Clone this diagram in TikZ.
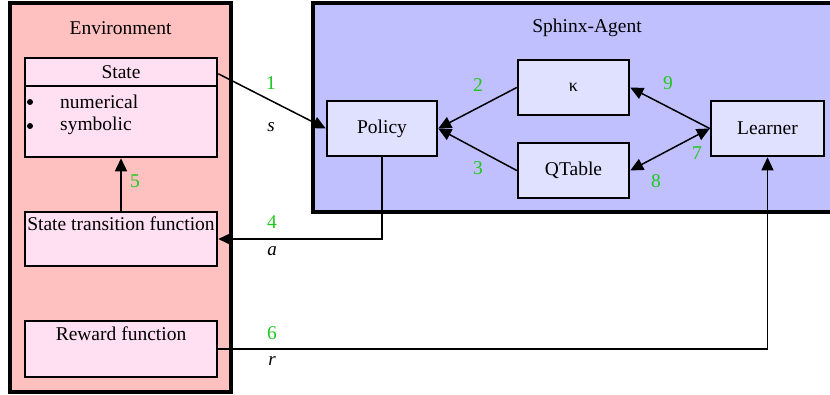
\documentclass[tikz,border=0pt]{standalone}
\usepackage{fontspec}
\setmainfont{Liberation Serif}
\usetikzlibrary{arrows.meta}
\definecolor{envfill}{RGB}{255,192,192}
\definecolor{nodepink}{RGB}{255,224,242}
\definecolor{agentfill}{RGB}{192,192,255}
\definecolor{nodeblue}{RGB}{224,224,255}
\definecolor{lblgreen}{RGB}{30,200,30}
\tikzset{
  cluster/.style={draw, line width=4pt},
  envbox/.style={draw, line width=2.5pt, fill=nodepink, inner sep=0pt, minimum width=192pt},
  agbox/.style={draw, line width=2.5pt, fill=nodeblue, inner sep=0pt, minimum width=110pt, minimum height=55pt},
  edge/.style={draw, line width=1.5pt, -{Triangle[length=13pt,width=12pt]}},
  thinedge/.style={draw, line width=1.2pt, -{Triangle[length=13pt,width=12pt]}},
  num/.style={text=lblgreen, inner sep=0pt},
  sym/.style={inner sep=0pt, font=\fontsize{19}{22}\selectfont\itshape},
  txt/.style={inner sep=0pt}
}
\begin{document}
\begin{tikzpicture}[x=1pt,y=-1pt,font=\fontsize{19.5}{23}\selectfont]
\useasboundingbox (0,0) rectangle (830,394);
\clip (0,0) rectangle (830,394);
% clusters
\draw[cluster, fill=envfill] (10,3) rectangle (231,392);
\node[txt] (envlbl) at (120.5,28) {Environment};
\draw[cluster, fill=agentfill] (313,3) rectangle (840,212);
\node[txt] (aglbl) at (587,28) {Sphinx-Agent};
% environment nodes
\node[envbox, minimum height=99pt] (state) at (121,107.5) {};
\draw[line width=2.5pt] ([yshift=-29pt]state.north west) -- ([yshift=-29pt]state.north east);
\node[txt] (statelbl) at (121,72) {State};
\fill (30,102) circle (3pt);
\fill (30,126) circle (3pt);
\node[txt, anchor=west] (numerical) at (60,102) {numerical};
\node[txt, anchor=west] (symbolic) at (60,126) {symbolic};
\node[envbox, minimum height=54pt] (stf) at (121,239) {};
\node[txt] (stflbl) at (121,224) {State transition function};
\node[envbox, minimum height=56pt] (reward) at (121,349) {};
\node[txt] (rewlbl) at (121,334) {Reward function};
% agent nodes
\node[agbox] (policy) at (382,128.5) {Policy};
\node[agbox, minimum width=111pt] (kappa) at (573.5,87.5) {\fontsize{18}{21}\selectfont κ};
\node[agbox, minimum width=111pt] (qtable) at (573.5,170.5) {QTable};
\node[agbox, minimum width=113pt] (learner) at (767.5,128.5) {Learner};
% edges
\draw[edge] ([yshift=-17pt]state.north east) -- (policy.west);
\draw[edge] (kappa.west) -- (policy.east);
\draw[edge] (qtable.west) -- (policy.east);
\draw[edge] (learner.west) -- (kappa.east);
\draw[edge, {Triangle[length=13pt,width=12pt]}-{Triangle[length=13pt,width=12pt]}] (learner.west) -- (qtable.east);
\draw[thinedge] (policy.south) |- (stf.east);
\draw[edge] (stf.north) -- (state.south);
\draw[thinedge] (reward.east) -| (learner.south);
% labels
\node[num] (l1) at (271,83) {1};
\node[sym] (ls) at (271,127) {s};
\node[num] (l2) at (478,85) {2};
\node[num] (l3) at (478,168) {3};
\node[num] (l9) at (668,83) {9};
\node[num] (l7) at (697,153) {7};
\node[num] (l8) at (656,181) {8};
\node[num] (l4) at (272,222) {4};
\node[sym] (la) at (272,251) {a};
\node[num] (l5) at (135,181) {5};
\node[num] (l6) at (272,333) {6};
\node[sym] (lr) at (272,361) {r};
\end{tikzpicture}
\end{document}
